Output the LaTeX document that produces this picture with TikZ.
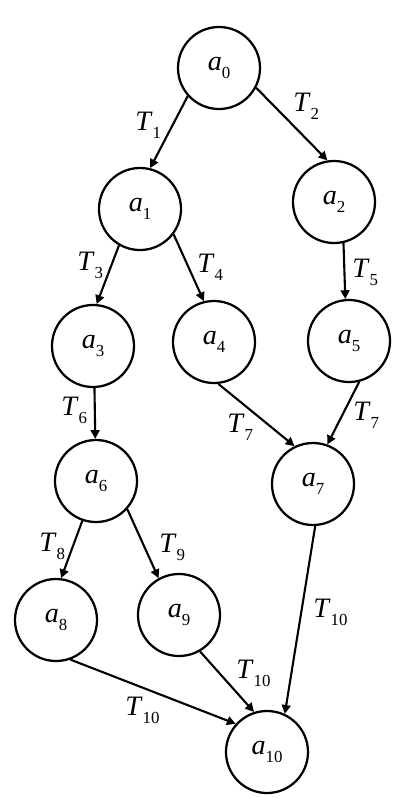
\documentclass[tikz,border=0pt]{standalone}
\usepackage{fontspec}
\setmainfont{Liberation Serif}
\usetikzlibrary{arrows.meta}
\newcommand{\mysub}[2]{\textit{#1}\raisebox{-6pt}{\fontsize{12}{12}\selectfont #2}}
\begin{document}
\begin{tikzpicture}[x=0.025cm,y=-0.025cm,
  state/.style={circle,draw,line width=1.6pt,minimum size=2.05cm,inner sep=0pt,font=\fontsize{20}{20}\selectfont},
  lbl/.style={anchor=base west,inner sep=0pt,font=\fontsize{20}{20}\selectfont},
  edge/.style={line width=1.5pt,-{Triangle[length=2.2mm,width=2.2mm]}}]
\useasboundingbox (0,0) rectangle (414,798);
\node[state] (a0) at (219,68) {\mysub{a}{0}};
\node[state] (a1) at (140,209) {\mysub{a}{1}};
\node[state] (a2) at (334,202) {\mysub{a}{2}};
\node[state] (a3) at (93,346) {\mysub{a}{3}};
\node[state] (a4) at (214,342) {\mysub{a}{4}};
\node[state] (a5) at (349,341) {\mysub{a}{5}};
\node[state] (a6) at (96,481) {\mysub{a}{6}};
\node[state] (a7) at (313,484) {\mysub{a}{7}};
\node[state] (a8) at (56,620) {\mysub{a}{8}};
\node[state] (a9) at (179,615) {\mysub{a}{9}};
\node[state] (a10) at (267,752) {\mysub{a}{10}};

\draw[edge] (a0.222) -- (a1.76);
\draw[edge] (a0.332) -- (a2.99);
\draw[edge] (a1.240) -- (a3.85);
\draw[edge] (a1.323) -- (a4.104);
\draw[edge] (a2.283) -- (a5.95);
\draw[edge] (a3.272) -- (a6.91);
\draw[edge] (a4.276) -- (a7.116);
\draw[edge] (a5.284) -- (a7.70);
\draw[edge] (a6.251) -- (a8.83);
\draw[edge] (a6.318) -- (a9.119);
\draw[edge] (a7.273) -- (a10.65);
\draw[edge] (a9.300) -- (a10.108);
\draw[edge] (a8.290) -- (a10.138);

\node[lbl] (t1) at (135,130) {\mysub{T}{1}};
\node[lbl] (t2) at (293,111) {\mysub{T}{2}};
\node[lbl] (t3) at (77,270) {\mysub{T}{3}};
\node[lbl] (t4) at (197,272) {\mysub{T}{4}};
\node[lbl] (t5) at (352,277) {\mysub{T}{5}};
\node[lbl] (t6) at (61,415) {\mysub{T}{6}};
\node[lbl] (t7a) at (227,432) {\mysub{T}{7}};
\node[lbl] (t7b) at (353,420) {\mysub{T}{7}};
\node[lbl] (t8) at (39,551) {\mysub{T}{8}};
\node[lbl] (t9) at (159,552) {\mysub{T}{9}};
\node[lbl] (t10a) at (313,617) {\mysub{T}{10}};
\node[lbl] (t10b) at (236,678) {\mysub{T}{10}};
\node[lbl] (t10c) at (125,715) {\mysub{T}{10}};
\end{tikzpicture}
\end{document}
